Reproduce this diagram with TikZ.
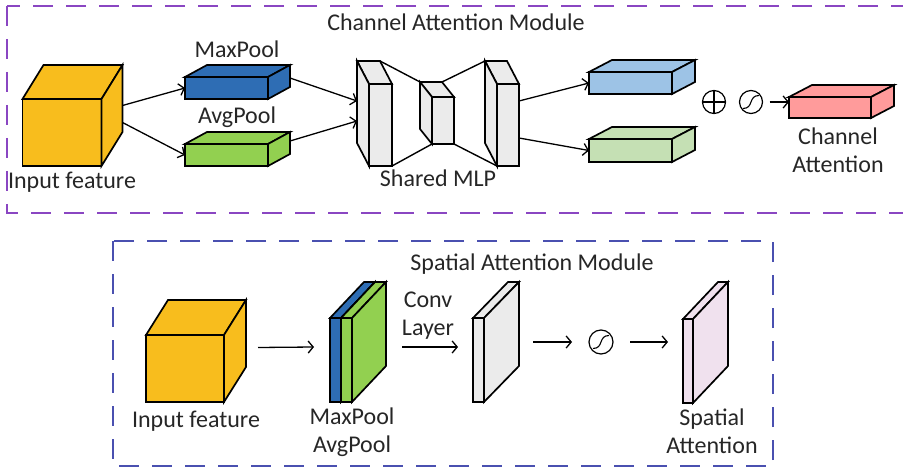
\documentclass[tikz,border=0pt]{standalone}
\usepackage{fontspec}
\setmainfont{Carlito}
\usetikzlibrary{positioning,arrows.meta,calc}
\definecolor{cgold}{HTML}{F8BD1D}
\definecolor{cblue}{HTML}{2E6DB4}
\definecolor{cgreen}{HTML}{92D050}
\definecolor{clblue}{HTML}{9DC3E6}
\definecolor{clgreen}{HTML}{C5E0B4}
\definecolor{cred}{HTML}{FF9B9B}
\definecolor{cgray}{HTML}{EBEBEB}
\definecolor{cpink}{HTML}{F0E1EE}
\definecolor{cpurp}{HTML}{8A46C2}
\definecolor{cnavy}{HTML}{4A50B0}
\tikzset{
  every picture/.style={line width=1.4pt},
  face/.style={draw,rectangle,inner sep=0,outer sep=0,line width=1.7pt},
  lbl/.style={font=\fontsize{24}{28}\selectfont,text=black!85,inner sep=1pt,align=center},
  flow/.style={-{Straight Barb[length=5pt,width=12pt]},line width=1.3pt},
  sym/.style={draw,circle,minimum size=23pt,inner sep=0,outer sep=0,line width=1.2pt},
  frame/.style={line width=1.6pt,dash pattern=on 20pt off 13pt},
}
% top face and one side face of a box whose front face is node #1
\newcommand{\prism}[5]{
  \draw[face,fill=#4] (#1.north west) -- ++(#2,#3) -- ($(#1.north east)+(#2,#3)$) -- (#1.north east) -- cycle;
  \draw[face,fill=#4] (#1.north #5) -- ++(#2,#3) -- ($(#1.south #5)+(#2,#3)$) -- (#1.south #5) -- cycle;}
\newcommand{\sigm}[1]{
  \draw[line width=1.1pt] ($(#1)+(-8,6.5)$) .. controls ($(#1)+(3,6.5)$) and ($(#1)+(-3,-6.5)$) .. ($(#1)+(8,-6.5)$);}

\begin{document}
\begin{tikzpicture}[x=1pt,y=-1pt]
\useasboundingbox (0,0) rectangle (903,468);
% module frames
\draw[frame,cpurp] (7,6) rectangle (912,213);
\draw[frame,cnavy] (113,241) rectangle (773,466);
\node[lbl] (ctitle) at (456,22) {Channel Attention Module};
\node[lbl] (stitle) at (532,264) {Spatial Attention Module};

%% channel attention
\node[face,fill=cgold,minimum width=79pt,minimum height=67pt] (inC) at (62,132.5) {};
\prism{inC}{21}{-34}{cgold}{east}
\node[lbl] at (72,182) {Input feature};
% pooled vectors
\node[face,fill=cblue,minimum width=83pt,minimum height=22pt] (mpC) at (226.5,88) {};
\prism{mpC}{22}{-12}{cblue}{east}
\node[lbl] at (237,49) {MaxPool};
\node[face,fill=cgreen,minimum width=83pt,minimum height=22pt] (apC) at (226.5,155) {};
\prism{apC}{22}{-12}{cgreen}{east}
\node[lbl] at (237,117) {AvgPool};
\draw[flow] ($(inC.east)+(21,-27)$) -- (mpC.west);
\draw[flow] ($(inC.east)+(21,-10)$) -- (apC.west);
% shared MLP
\node[face,fill=cgray,minimum width=23pt,minimum height=82pt] (s1) at (380.5,125) {};
\prism{s1}{-12}{-23}{cgray}{west}
\node[face,fill=cgray,minimum width=22pt,minimum height=47pt] (s2) at (443,120.5) {};
\prism{s2}{-12}{-15}{cgray}{west}
\node[face,fill=cgray,minimum width=22pt,minimum height=82pt] (s3) at (508,125) {};
\prism{s3}{-12}{-23}{cgray}{west}
\draw ($(s1.north east)+(-12,-23)$) -- ($(s2.north west)+(-12,-15)$);
\draw (s1.south east) -- (s2.south west);
\draw ($(s2.north east)+(-12,-15)$) -- ($(s3.north west)+(-12,-23)$);
\draw (s2.south east) -- (s3.south west);
\node[lbl] at (438,178) {Shared MLP};
\draw[flow] ($(mpC.east)+(22,-10)$) -- ($(s1.west)+(-12,-24)$);
\draw[flow] ($(apC.east)+(22,-14)$) -- ($(s1.west)+(-12,-4)$);
% MLP outputs
\node[face,fill=clblue,minimum width=83pt,minimum height=22pt] (moC) at (630.5,83) {};
\prism{moC}{23}{-12}{clblue}{east}
\node[face,fill=clgreen,minimum width=83pt,minimum height=23pt] (aoC) at (630.5,150.5) {};
\prism{aoC}{23}{-12}{clgreen}{east}
\draw[flow] ($(s3.east)+(0,-24)$) -- (moC.west);
\draw[flow] ($(s3.east)+(0,13)$) -- (aoC.west);
% sum, sigmoid, result
\node[sym] (sum) at (714,102) {};
\draw[line width=1.1pt] (sum.north) -- (sum.south) (sum.west) -- (sum.east);
\node[sym] (sg1) at (751,102) {};
\sigm{sg1}
\node[face,fill=cred,minimum width=82pt,minimum height=21pt] (caC) at (830,107.5) {};
\prism{caC}{23}{-12}{cred}{east}
\draw[flow] ($(sg1.east)+(7,0)$) -- (caC.west |- sg1.center);
\node[lbl] at (838,150) {Channel\\Attention};

%% spatial attention
\node[face,fill=cgold,minimum width=78pt,minimum height=67pt] (inS) at (185,368.5) {};
\prism{inS}{22}{-35}{cgold}{east}
\node[lbl] at (196,421) {Input feature};
\node[face,fill=cblue,minimum width=11pt,minimum height=84pt] (mpS) at (335.5,360) {};
\prism{mpS}{34}{-36}{cblue}{east}
\node[face,fill=cgreen,minimum width=11pt,minimum height=84pt] (apS) at (346.5,360) {};
\prism{apS}{34}{-36}{cgreen}{east}
\node[lbl] at (352,432.5) {MaxPool\\AvgPool};
\draw[flow] ($(inS.east)+(34,-21)$) -- ($(mpS.west)+(-16,-13)$);
\node[face,fill=cgray,minimum width=11pt,minimum height=84pt] (cvS) at (478.5,360) {};
\prism{cvS}{35}{-36}{cgray}{east}
\draw[flow] ($(apS.east)+(50,-13)$) -- ($(cvS.west)+(-15,-13)$);
\node[lbl] at (428,315.5) {Conv\\Layer};
\node[sym,minimum size=24pt] (sg2) at (601,342) {};
\sigm{sg2}
\node[face,fill=cpink,minimum width=10pt,minimum height=84pt] (saS) at (688,361) {};
\prism{saS}{35}{-37}{cpink}{east}
\draw[flow] ($(sg2.west)+(-56,0)$) -- ($(sg2.west)+(-17,0)$);
\draw[flow] ($(sg2.east)+(17,0)$) -- ($(saS.west |- sg2.center)+(-15,0)$);
\node[lbl] at (712,431) {Spatial\\Attention};
\end{tikzpicture}
\end{document}
